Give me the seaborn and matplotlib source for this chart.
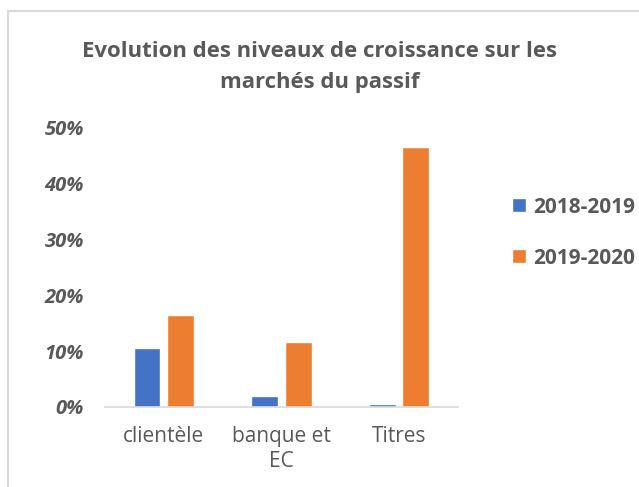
import pandas as pd
import matplotlib.pyplot as plt
import seaborn as sns
from matplotlib.patches import Rectangle
from matplotlib.ticker import PercentFormatter

# Values
categories = ['clientèle', 'banque et\nEC', 'Titres']
periods = ['2018-2019', '2019-2020']
growth_2018_2019 = [0.106, 0.020, 0.005]
growth_2019_2020 = [0.165, 0.117, 0.466]

df = pd.DataFrame({
    'Marché': categories * 2,
    'Période': [periods[0]] * 3 + [periods[1]] * 3,
    'Croissance': growth_2018_2019 + growth_2019_2020,
})

sns.set_theme(style='white')
plt.rcParams['font.family'] = ['Open Sans', 'DejaVu Sans']
text_color = '#595959'

fig = plt.figure(figsize=(6.39, 4.87), dpi=100)
ax = fig.add_axes([0.1643, 0.1643, 0.7167 - 0.1643, 0.7372 - 0.1643])

sns.barplot(data=df, x='Marché', y='Croissance', hue='Période',
            palette=['#4472C4', '#ED7D31'], saturation=1,
            width=0.57, gap=0.2, ax=ax)

ax.set_ylim(0, 0.5)
ax.set_xlim(-0.5, 2.5)
ax.yaxis.set_major_formatter(PercentFormatter(1.0, decimals=0))
ax.set_yticks([0, 0.1, 0.2, 0.3, 0.4, 0.5])
ax.set_xlabel('')
ax.set_ylabel('')
for lbl in ax.get_yticklabels():
    lbl.set_fontstyle('italic')
    lbl.set_fontweight('bold')
    lbl.set_color(text_color)
    lbl.set_fontsize(14.5)
for lbl in ax.get_xticklabels():
    lbl.set_color(text_color)
    lbl.set_fontsize(15)
    lbl.set_linespacing(1.25)
ax.tick_params(axis='y', length=0, pad=15)
ax.tick_params(axis='x', length=0, pad=14)

for side in ['top', 'right', 'left']:
    ax.spines[side].set_visible(False)
ax.spines['bottom'].set_color('#D9D9D9')
ax.spines['bottom'].set_linewidth(1.2)

leg = ax.legend(loc='center left', bbox_to_anchor=(1.1, 0.625), frameon=False,
                fontsize=15, labelspacing=1.45, handlelength=0.65, handleheight=0.65,
                handletextpad=0.35)
for t in leg.get_texts():
    t.set_fontweight('bold')
    t.set_color(text_color)

fig.text(0.5, 0.862, 'Evolution des niveaux de croissance sur les\nmarchés du passif',
         ha='center', va='center', fontsize=15.9, fontweight='bold', color=text_color,
         linespacing=1.6)

# light chart-area border (cut at right and bottom as in the original)
fig.patches.append(Rectangle((8 / 639, -0.05), 1.0, 1 - 11 / 487 + 0.05,
                             transform=fig.transFigure, fill=False,
                             edgecolor='#D9D9D9', linewidth=1.5))

plt.savefig('out.png', dpi=100)
